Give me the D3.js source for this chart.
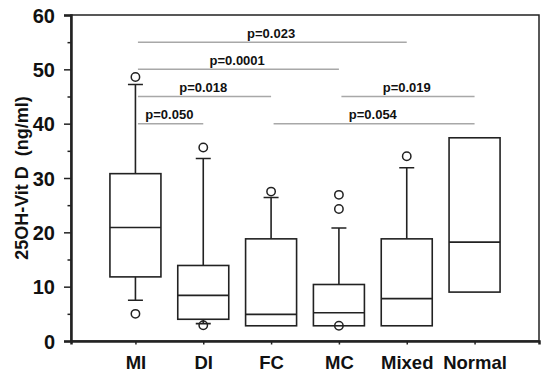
<!DOCTYPE html>
<html>
<head>
<meta charset="utf-8">
<script src="https://cdn.jsdelivr.net/npm/d3@7"></script>
<style>
  body { margin: 0; background: #fff; }
  text { font-family: "Liberation Sans", Arial, sans-serif; font-weight: bold; fill: #111; }
</style>
</head>
<body>
<div id="viz"></div>
<script>
var categories = ["MI", "DI", "FC", "MC", "Mixed", "Normal"];
var q1 = [11.8, 4.0, 2.8, 2.8, 2.8, 9.0];
var median = [20.9, 8.4, 4.9, 5.2, 7.8, 18.2];
var q3 = [30.8, 13.9, 18.8, 10.4, 18.8, 37.4];
var whiskerLow = [7.5, 3.2, null, null, null, null];
var whiskerHigh = [47.2, 33.6, 26.4, 20.8, 31.9, null];
var outliers = [[48.6, 5.0], [35.6, 2.9], [27.5], [26.9, 24.3, 2.8], [34.0], []];

var yTicks = [0, 10, 20, 30, 40, 50, 60];
var yMinorTicks = [5, 15, 25, 35, 45, 55];

// significance brackets: from, to, level (ng/ml), label
var compFrom = ["MI", "MI", "MI", "MI", "FC", "MC"];
var compTo = ["DI", "FC", "MC", "Mixed", "Normal", "Normal"];
var compLevel = [40, 45, 50, 55, 40, 45];
var compLabel = ["p=0.050", "p=0.018", "p=0.0001", "p=0.023", "p=0.054", "p=0.019"];

var width = 550, height = 380;
var m = {left: 71, right: 11, top: 15, bottom: 39};
var svg = d3.select("#viz").append("svg").attr("width", width).attr("height", height);

var x = d3.scalePoint()
    .domain(categories)
    .range([m.left, width - m.right])
    .padding(0.95);

var y = d3.scaleLinear()
    .domain([0, 60])
    .range([height - m.bottom, m.top]);

var boxW = 51, capW = 15;

// frame
svg.append("rect")
    .attr("x", m.left)
    .attr("y", m.top)
    .attr("width", width - m.left - m.right)
    .attr("height", height - m.top - m.bottom)
    .attr("fill", "none")
    .attr("stroke", "#222")
    .attr("stroke-width", 1.5);

// y axis
var yAxis = svg.append("g")
    .attr("transform", "translate(" + m.left + ",0)")
    .call(d3.axisLeft(y).tickValues(yTicks).tickSize(7).tickPadding(9).tickFormat(d3.format("d")));
yAxis.select(".domain").attr("stroke", "#222").attr("stroke-width", 2.5);
yAxis.selectAll(".tick line").attr("stroke", "#222").attr("stroke-width", 1.5);
yAxis.selectAll(".tick text").style("font-size", "20px").attr("dy", "0.36em").attr("fill", "#111");

svg.append("g")
    .attr("transform", "translate(" + m.left + ",0)")
    .call(d3.axisLeft(y).tickValues(yMinorTicks).tickSize(3.5).tickFormat(""))
  .call(function(g) { g.select(".domain").remove(); })
  .selectAll("line").attr("stroke", "#222").attr("stroke-width", 1.5);

// x axis
var xAxis = svg.append("g")
    .attr("transform", "translate(0," + (height - m.bottom) + ")")
    .call(d3.axisBottom(x).tickSize(3.5).tickPadding(11));
xAxis.select(".domain").attr("stroke", "#222").attr("stroke-width", 2.5);
xAxis.selectAll(".tick line").attr("stroke", "#222").attr("stroke-width", 1.5);
xAxis.selectAll(".tick text").style("font-size", "18.5px").attr("fill", "#111");

// y title
svg.append("text")
    .attr("transform", "translate(28," + ((m.top + height - m.bottom) / 2) + ") rotate(-90)")
    .attr("text-anchor", "middle")
    .style("font-size", "18px")
    .style("white-space", "pre")
    .text("25OH-Vit D  (ng/ml)");

// significance lines
var comps = compLabel.map(function(l, i) {
  return {from: compFrom[i], to: compTo[i], level: compLevel[i], label: l};
});

svg.selectAll(".sig-line")
  .data(comps)
  .enter().append("line")
    .attr("class", "sig-line")
    .attr("x1", function(d) { return x(d.from) + 2.5; })
    .attr("x2", function(d) { return x(d.to); })
    .attr("y1", function(d) { return y(d.level); })
    .attr("y2", function(d) { return y(d.level); })
    .attr("stroke", "#a8a8a8")
    .attr("stroke-width", 1.5);

svg.selectAll(".sig-text")
  .data(comps)
  .enter().append("text")
    .attr("class", "sig-text")
    .attr("x", function(d) { return (x(d.from) + x(d.to)) / 2; })
    .attr("y", function(d) { return y(d.level) - 4.5; })
    .attr("text-anchor", "middle")
    .style("font-size", "13px")
    .text(function(d) { return d.label; });

// boxes
var boxes = categories.map(function(c, i) {
  return {name: c, q1: q1[i], med: median[i], q3: q3[i], lo: whiskerLow[i], hi: whiskerHigh[i], out: outliers[i]};
});

var cell = svg.selectAll(".box")
  .data(boxes)
  .enter().append("g")
    .attr("class", "box")
    .attr("transform", function(d) { return "translate(" + x(d.name) + ",0)"; });

cell.filter(function(d) { return d.hi != null; })
  .append("path")
    .attr("d", function(d) {
      return "M0," + y(d.q3) + "V" + y(d.hi) + "M" + (-capW / 2) + "," + y(d.hi) + "H" + (capW / 2);
    })
    .attr("fill", "none").attr("stroke", "#222").attr("stroke-width", 1.6);

cell.filter(function(d) { return d.lo != null; })
  .append("path")
    .attr("d", function(d) {
      return "M0," + y(d.q1) + "V" + y(d.lo) + "M" + (-capW / 2) + "," + y(d.lo) + "H" + (capW / 2);
    })
    .attr("fill", "none").attr("stroke", "#222").attr("stroke-width", 1.6);

cell.append("rect")
    .attr("x", -boxW / 2)
    .attr("y", function(d) { return y(d.q3); })
    .attr("width", boxW)
    .attr("height", function(d) { return y(d.q1) - y(d.q3); })
    .attr("fill", "#fff")
    .attr("stroke", "#222")
    .attr("stroke-width", 1.6);

cell.append("line")
    .attr("x1", -boxW / 2)
    .attr("x2", boxW / 2)
    .attr("y1", function(d) { return y(d.med); })
    .attr("y2", function(d) { return y(d.med); })
    .attr("stroke", "#222")
    .attr("stroke-width", 1.6);

cell.selectAll("circle")
  .data(function(d) { return d.out; })
  .enter().append("circle")
    .attr("cx", 0)
    .attr("cy", function(v) { return y(v); })
    .attr("r", 4.2)
    .attr("fill", "none")
    .attr("stroke", "#222")
    .attr("stroke-width", 1.5);
</script>
</body>
</html>
